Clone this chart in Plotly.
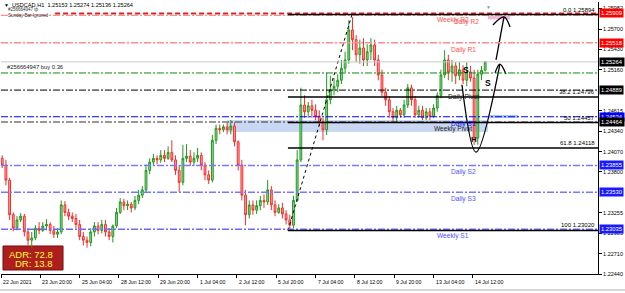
import plotly.graph_objects as go

# ---------------- data ----------------
# 3-hour candles, positioned on an H1 bar index (0 = 22 Jun 2021 12:00)
bar_pos = list(range(1, 396, 3))

opens = [1.2398,1.2389,1.2369,1.2323,1.2305,1.2316,1.2321,1.2300,1.2289,1.2292,
         1.2305,1.2302,1.2308,1.2310,1.2302,1.2297,1.2300,1.2336,1.2326,1.2321,
         1.2318,1.2310,1.2294,1.2289,1.2286,1.2300,1.2308,1.2302,1.2310,1.2300,
         1.2294,1.2308,1.2326,1.2340,1.2335,1.2337,1.2332,1.2342,1.2349,1.2356,
         1.2382,1.2393,1.2398,1.2396,1.2402,1.2398,1.2406,1.2396,1.2382,1.2366,
         1.2398,1.2401,1.2393,1.2398,1.2402,1.2389,1.2376,1.2369,1.2422,1.2438,
         1.2436,1.2440,1.2436,1.2441,1.2420,1.2389,1.2349,1.2323,1.2336,1.2329,
         1.2335,1.2342,1.2340,1.2356,1.2336,1.2326,1.2332,1.2324,1.2316,1.2309,
         1.2342,1.2396,1.2469,1.2460,1.2468,1.2462,1.2454,1.2446,1.2436,1.2476,
         1.2489,1.2494,1.2502,1.2518,1.2529,1.2569,1.2556,1.2536,1.2545,1.2529,
         1.2540,1.2549,1.2529,1.2509,1.2486,1.2476,1.2460,1.2452,1.2462,1.2456,
         1.2469,1.2492,1.2476,1.2456,1.2462,1.2452,1.2460,1.2454,1.2465,1.2482,
         1.2509,1.2529,1.2513,1.2521,1.2508,1.2516,1.2502,1.2513,1.2505,1.2425,
         1.2510,1.25153]
highs = [1.2402,1.2396,1.2372,1.2326,1.2321,1.2325,1.2324,1.2305,1.2300,1.2309,
         1.2313,1.2313,1.2317,1.2313,1.2308,1.2305,1.2342,1.2341,1.2331,1.2326,
         1.2324,1.2316,1.2300,1.2294,1.2305,1.2313,1.2313,1.2316,1.2316,1.2305,
         1.2310,1.2332,1.2345,1.2344,1.2342,1.2340,1.2348,1.2356,1.2361,1.2390,
         1.2398,1.2404,1.2402,1.2409,1.2409,1.2414,1.2422,1.2402,1.2389,1.2416,
         1.2417,1.2409,1.2406,1.2412,1.2406,1.2393,1.2382,1.2429,1.2443,1.2443,
         1.2443,1.2445,1.2449,1.2446,1.2422,1.2396,1.2356,1.2342,1.2342,1.2342,
         1.2348,1.2350,1.2369,1.2361,1.2342,1.2337,1.2339,1.2329,1.2323,1.2348,
         1.2409,1.2492,1.2482,1.2473,1.2476,1.2470,1.2462,1.2452,1.2512,1.2508,
         1.2505,1.2510,1.2529,1.2540,1.2582,1.2586,1.2562,1.2556,1.2558,1.2550,
         1.2558,1.2556,1.2536,1.2516,1.2492,1.2481,1.2465,1.2468,1.2465,1.2476,
         1.2497,1.2496,1.2481,1.2468,1.2468,1.2465,1.2465,1.2470,1.2486,1.2516,
         1.2542,1.2536,1.2529,1.2526,1.2526,1.2522,1.2526,1.2521,1.2516,1.2516,
         1.2521,1.25274]
lows = [1.2385,1.2362,1.2316,1.2301,1.2302,1.2313,1.2294,1.2282,1.2279,1.2289,
        1.2297,1.2300,1.2302,1.2297,1.2292,1.2292,1.2297,1.2321,1.2316,1.2313,
        1.2305,1.2289,1.2282,1.2279,1.2281,1.2294,1.2297,1.2298,1.2294,1.2289,
        1.2286,1.2305,1.2324,1.2329,1.2329,1.2326,1.2329,1.2337,1.2345,1.2353,
        1.2377,1.2388,1.2390,1.2392,1.2393,1.2396,1.2393,1.2376,1.2353,1.2362,
        1.2393,1.2388,1.2388,1.2393,1.2382,1.2369,1.2364,1.2366,1.2417,1.2430,
        1.2433,1.2430,1.2430,1.2414,1.2382,1.2342,1.2309,1.2318,1.2323,1.2324,
        1.2329,1.2332,1.2336,1.2329,1.2321,1.2324,1.2318,1.2310,1.2302,1.2305,
        1.2340,1.2393,1.2452,1.2452,1.2452,1.2449,1.2441,1.2422,1.2429,1.2470,
        1.2482,1.2486,1.2497,1.2513,1.2524,1.2542,1.2526,1.2524,1.2521,1.2521,
        1.2529,1.2521,1.2502,1.2481,1.2468,1.2452,1.2446,1.2446,1.2452,1.2452,
        1.2465,1.2468,1.2452,1.2452,1.2449,1.2449,1.2449,1.2452,1.2460,1.2478,
        1.2505,1.2502,1.2500,1.2497,1.2502,1.2497,1.2494,1.2500,1.2416,1.2416,
        1.2502,1.25136]
closes = [1.2389,1.2369,1.2323,1.2305,1.2316,1.2321,1.2300,1.2289,1.2292,1.2305,
          1.2302,1.2308,1.2310,1.2302,1.2297,1.2300,1.2336,1.2326,1.2321,1.2318,
          1.2310,1.2294,1.2289,1.2286,1.2300,1.2308,1.2302,1.2310,1.2300,1.2294,
          1.2308,1.2326,1.2340,1.2335,1.2337,1.2332,1.2342,1.2349,1.2356,1.2382,
          1.2393,1.2398,1.2396,1.2402,1.2398,1.2406,1.2396,1.2382,1.2366,1.2398,
          1.2401,1.2393,1.2398,1.2402,1.2389,1.2376,1.2369,1.2422,1.2438,1.2436,
          1.2440,1.2436,1.2441,1.2420,1.2389,1.2349,1.2323,1.2336,1.2329,1.2335,
          1.2342,1.2340,1.2356,1.2336,1.2326,1.2332,1.2324,1.2316,1.2309,1.2342,
          1.2396,1.2469,1.2460,1.2468,1.2462,1.2454,1.2446,1.2436,1.2476,1.2489,
          1.2494,1.2502,1.2518,1.2529,1.2569,1.2556,1.2536,1.2545,1.2529,1.2540,
          1.2549,1.2529,1.2509,1.2486,1.2476,1.2460,1.2452,1.2462,1.2456,1.2469,
          1.2492,1.2476,1.2456,1.2462,1.2452,1.2460,1.2454,1.2465,1.2482,1.2509,
          1.2529,1.2513,1.2521,1.2508,1.2516,1.2502,1.2513,1.2505,1.2425,1.2510,
          1.25153,1.25264]

time_tick_pos = [0, 32, 64, 96, 128, 160, 192, 224, 256, 288, 320, 352, 384]
time_tick_text = ["22 Jun 2021", "23 Jun 20:00", "25 Jun 04:00", "28 Jun 12:00",
                  "29 Jun 20:00", "1 Jul 04:00", "2 Jul 12:00", "5 Jul 20:00",
                  "7 Jul 04:00", "8 Jul 12:00", "9 Jul 20:00", "13 Jul 04:00",
                  "14 Jul 12:00"]

price_ticks = [1.25982, 1.25700, 1.25430, 1.25160, 1.24615, 1.24340, 1.24070,
               1.23800, 1.23255, 1.22985, 1.22710, 1.22440]

pivot_names = ["Weekly R2", "Daily R2", "Daily R1", "Daily Pivot", "Daily S1",
               "Weekly Pivot", "Daily S2", "Daily S3", "Weekly S1"]
pivot_values = [1.25909, 1.25885, 1.25518, 1.24889, 1.24534, 1.24464,
                1.23885, 1.23530, 1.23035]

tag_values = [1.25909, 1.25518, 1.25264, 1.24889, 1.24534, 1.24464,
              1.23885, 1.23530, 1.23035]
tag_texts = ["1.25909", "1.25518", "1.25264", "1.24889", "1.24534", "1.24464",
             "1.23855", "1.23530", "1.23035"]

bid_price = 1.25264
order_price = 1.25117
order_text = "#256664947 buy 0.36"

fib_start = [233.5, 1.23020]   # anchor 1 (time index, price) -> 100%
fib_end = [285.6, 1.25894]     # anchor 2 -> 0%
fib_levels = [0.0, 38.2, 50.0, 61.8, 100.0]

zone_time = [184.0, 396.3]
zone_price = [1.24330, 1.24490]
zone2_time = [396.3, 420.7]
zone2_price = [1.24517, 1.24557]
pink_time = [396.3, 414.2]
pink_price = [1.25830, 1.25875]

pen_v_x = [375.1, 386.5, 406.0]
pen_v_y = [1.24960, 1.24064, 1.25236]
pen_v_head_x = [402.0, 406.0, 410.9]
pen_v_head_y = [1.25117, 1.25236, 1.25103]
pen_up_x = [402.8, 409.3]
pen_up_y = [1.25290, 1.25863]
pen_up_head_x = [400.3, 409.3, 414.2]
pen_up_head_y = [1.25756, 1.25863, 1.25729]

marks_text = ["S", "S", "H"]
marks_x = [378.4, 396.3, 384.9]
marks_y = [1.25160, 1.24980, 1.24225]

header_text = "USDCAD,H1  1.25153 1.25274 1.25136 1.25264"
adr_text = "ADR: 72.8"
dr_text = "DR: 13.8"

# ---------------- figure ----------------
FONT = "Liberation Sans, Arial, sans-serif"
X_MAX = 485.8
Y_MIN, Y_MAX = 1.22440, 1.26062

fig = go.Figure()

fig.add_trace(go.Candlestick(
    x=bar_pos, open=opens, high=highs, low=lows, close=closes,
    increasing=dict(line=dict(color="#1f9a1f", width=1), fillcolor="#9bd89b"),
    decreasing=dict(line=dict(color="#ff2a2a", width=1), fillcolor="#ffa6a6"),
    whiskerwidth=0, showlegend=False, hoverinfo="skip"))

shapes = []
annos = []

DASHDOT = "7px,2px,2px,2px"
pivot_style = {
    "Weekly R2": ("#e02020", 2, "5px,3px"),
    "Daily R2": ("#ff7070", 1, DASHDOT),
    "Daily R1": ("#ff8c8c", 1.5, DASHDOT),
    "Daily Pivot": ("#000000", 1, DASHDOT),
    "Daily S1": ("#0000ff", 1, DASHDOT),
    "Weekly Pivot": ("#303030", 1, DASHDOT),
    "Daily S2": ("#7878ff", 1.5, DASHDOT),
    "Daily S3": ("#7878ff", 1.5, DASHDOT),
    "Weekly S1": ("#6a6aff", 1.5, DASHDOT),
}
label_color = {
    "Weekly R2": "#ff5050", "Daily R2": "#ff5050", "Daily R1": "#ff5050",
    "Daily Pivot": "#202020", "Daily S1": "#1010ff", "Weekly Pivot": "#202020",
    "Daily S2": "#5050ff", "Daily S3": "#5050ff", "Weekly S1": "#5050ff",
}
label_x = {
    "Weekly R2": 367.8, "Daily R2": 378.5, "Daily R1": 376.7, "Daily Pivot": 376.7,
    "Daily S1": 376.7, "Weekly Pivot": 367.8, "Daily S2": 376.7, "Daily S3": 376.7,
    "Weekly S1": 367.8,
}

# light blue zones (below everything)
shapes.append(dict(type="rect", xref="x", yref="y", layer="below",
                   x0=zone_time[0], x1=zone_time[1], y0=zone_price[0], y1=zone_price[1],
                   fillcolor="#c9d7f3", line=dict(width=0)))
shapes.append(dict(type="rect", xref="x", yref="y", layer="below",
                   x0=zone2_time[0], x1=zone2_time[1], y0=zone2_price[0], y1=zone2_price[1],
                   fillcolor="#a9c9f0", line=dict(width=0)))
shapes.append(dict(type="rect", xref="x", yref="y", layer="below",
                   x0=pink_time[0], x1=pink_time[1], y0=pink_price[0], y1=pink_price[1],
                   fillcolor="#f3b8d6", line=dict(width=0)))

# bid line & order line
shapes.append(dict(type="line", xref="paper", yref="y", x0=0, x1=1, y0=bid_price, y1=bid_price,
                   line=dict(color="#c8c8c8", width=1)))
shapes.append(dict(type="line", xref="paper", yref="y", x0=0, x1=1, y0=order_price, y1=order_price,
                   line=dict(color="#0a8a0a", width=1, dash=DASHDOT)))
annos.append(dict(text=order_text, xref="paper", yref="y", x=0.0067, y=order_price,
                  xanchor="left", yanchor="bottom", yshift=1, showarrow=False,
                  font=dict(family=FONT, size=5.8, color="#202020")))

# pivot lines + labels
for name, val in zip(pivot_names, pivot_values):
    col, w, dash = pivot_style[name]
    x0 = 44 if name == "Weekly R2" else 0
    shapes.append(dict(type="line", xref="x", yref="y", x0=x0, x1=X_MAX, y0=val, y1=val,
                       line=dict(color=col, width=w, dash=dash)))
    annos.append(dict(text=name, xref="x", yref="y", x=label_x[name], y=val,
                      xanchor="center", yanchor="top", yshift=-1, showarrow=False,
                      font=dict(family=FONT, size=6.6, color=label_color[name])))

# fibonacci
fib_hi, fib_lo = fib_end[1], fib_start[1]
for lv in fib_levels:
    p = fib_hi - lv / 100.0 * (fib_hi - fib_lo)
    shapes.append(dict(type="line", xref="x", yref="y", x0=fib_start[0], x1=X_MAX, y0=p, y1=p,
                       line=dict(color="#000000", width=1.5)))
    lab = ("%.1f" % lv if lv not in (50.0, 100.0) else "%d" % lv) + " " + "%.5f" % p
    annos.append(dict(text=lab, xref="paper", yref="y", x=0.998, y=p,
                      xanchor="right", yanchor="bottom", yshift=0, showarrow=False,
                      font=dict(family=FONT, size=6, color="#000000")))
fig.add_trace(go.Scatter(x=[fib_start[0], fib_end[0]], y=[fib_start[1], fib_end[1]],
                         mode="lines", line=dict(color="#000000", width=1, dash="dot"),
                         showlegend=False, hoverinfo="skip"))

# pen drawings
for xs, ys in ((pen_v_x, pen_v_y), (pen_v_head_x, pen_v_head_y),
               (pen_up_x, pen_up_y), (pen_up_head_x, pen_up_head_y)):
    fig.add_trace(go.Scatter(x=xs, y=ys, mode="lines",
                             line=dict(color="#000000", width=1.3, shape="spline"),
                             showlegend=False, hoverinfo="skip"))
for t, mx, my in zip(marks_text, marks_x, marks_y):
    annos.append(dict(text="<b>%s</b>" % t, xref="x", yref="y", x=mx, y=my, showarrow=False,
                      font=dict(family=FONT, size=8.5 if t == "S" else 8, color="#000000")))

# price tags on the right axis
tag_bg = ["#ff0000", "#ff0000", "#000000", "#000000", "#0000ff", "#000000",
          "#1a1aff", "#1a1aff", "#1a1aff"]
for v, t, bg in zip(tag_values, tag_texts, tag_bg):
    annos.append(dict(text=t, xref="paper", yref="y", x=1, y=v, xanchor="left",
                      yanchor="middle", xshift=1, showarrow=False, bgcolor=bg,
                      borderpad=1, font=dict(family=FONT, size=5.8, color="#ffffff")))

# time labels
for pos, t in zip(time_tick_pos, time_tick_text):
    annos.append(dict(text=t, xref="x", yref="paper", x=pos, y=-0.0294,
                      xanchor="left", yanchor="middle", showarrow=False,
                      font=dict(family=FONT, size=5.2, color="#000000")))

# header texts
annos.append(dict(text="\u25bc", xref="paper", yref="paper", x=0.002, y=0.990,
                  xanchor="left", yanchor="middle", showarrow=False,
                  font=dict(family=FONT, size=5, color="#000000")))
annos.append(dict(text=header_text, xref="paper", yref="paper", x=0.0151, y=0.990,
                  xanchor="left", yanchor="middle", showarrow=False,
                  font=dict(family=FONT, size=5.6, color="#000000")))
annos.append(dict(text="#256664947 tp", xref="paper", yref="paper", x=0.0084, y=0.971,
                  xanchor="left", yanchor="middle", showarrow=False,
                  font=dict(family=FONT, size=4.5, color="#303030")))
annos.append(dict(text="Sunday Bar Ignored", xref="paper", yref="paper", x=0.0084, y=0.951,
                  xanchor="left", yanchor="middle", showarrow=False,
                  font=dict(family=FONT, size=4.5, color="#303030")))
annos.append(dict(text="\u25bc", xref="paper", yref="paper", x=0.8174, y=1.0,
                  xanchor="center", yanchor="top", showarrow=False,
                  font=dict(family=FONT, size=5, color="#909090")))

# ADR box
shapes.append(dict(type="rect", xref="paper", yref="paper", x0=0.00335, x1=0.1039,
                   y0=0.0147, y1=0.103, fillcolor="#ad1f1f", layer="below",
                   line=dict(color="#7a0d0d", width=1)))
annos.append(dict(text=adr_text, xref="paper", yref="paper", x=0.0905, y=0.0735,
                  xanchor="right", yanchor="middle", showarrow=False,
                  font=dict(family=FONT, size=9.5, color="#ffff30")))
annos.append(dict(text=dr_text, xref="paper", yref="paper", x=0.0905, y=0.0368,
                  xanchor="right", yanchor="middle", showarrow=False,
                  font=dict(family=FONT, size=9.5, color="#ffff30")))

# bottom tab strip
shapes.append(dict(type="line", xref="paper", yref="paper", x0=-0.01, x1=1.05,
                   y0=-0.0588, y1=-0.0588, line=dict(color="#b0b0b0", width=1)))

fig.update_layout(
    width=625, height=293,
    margin=dict(l=1, r=27, t=2, b=19),
    paper_bgcolor="#ffffff", plot_bgcolor="#ffffff",
    shapes=shapes, annotations=annos,
    xaxis=dict(range=[0, X_MAX], showgrid=False, zeroline=False, rangeslider=dict(visible=False),
               tickmode="array", tickvals=time_tick_pos, showticklabels=False,
               ticks="outside", ticklen=3, tickcolor="#000000",
               showline=True, linecolor="#000000", linewidth=1),
    yaxis=dict(range=[Y_MIN, Y_MAX], side="right", showgrid=False, zeroline=False,
               tickmode="array", tickvals=price_ticks,
               ticktext=["%.5f" % v for v in price_ticks],
               ticks="outside", ticklen=3, tickcolor="#000000",
               tickfont=dict(family=FONT, size=5.5, color="#000000"),
               showline=True, linecolor="#000000", linewidth=1),
)

fig.write_html("out.html")
